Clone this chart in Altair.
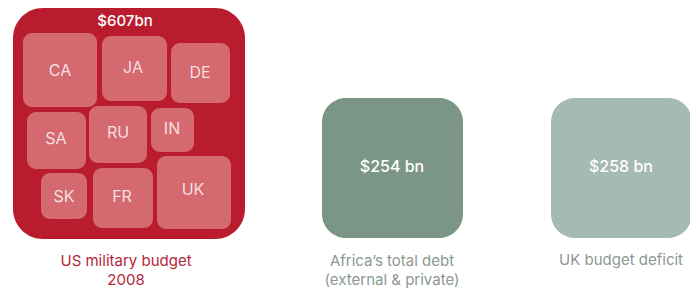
import altair as alt
import pandas as pd

# ---- data ----
totals_labels = ["$607bn", "$254 bn", "$258 bn"]
totals_names = ["US military budget", "Africa's total debt", "UK budget deficit"]
caption_lines = [["US military budget", "2008"],
                 ["Africa\u2019s total debt", "(external & private)"],
                 ["UK budget deficit"]]
countries = ["CA", "JA", "DE", "SA", "RU", "IN", "SK", "FR", "UK"]

# ---- layout (page pixel space) ----
big_boxes = [  # x0, x1, y0, y1
    (13, 245, 8, 239),
    (322, 463, 98, 238),
    (551, 692, 98, 238),
]
big_colors = ["#b91d2d", "#7b9686", "#a5bab0"]
big_radius = [30, 24, 24]
country_boxes = [
    (23, 97, 33, 107), (102, 167, 36, 101), (171, 230, 43, 103),
    (27, 86, 112, 169), (89, 147, 106, 163), (151, 194, 108, 152),
    (41, 87, 173, 219), (93, 153, 168, 228), (157, 231, 156, 229),
]
country_label_pos = [(60, 71), (133, 68), (200, 73), (56, 139), (118, 133),
                     (172, 129), (64, 197), (122, 197), (193, 190)]
total_label_pos = [(125, 21), (392, 167), (621, 167)]
caption_pos_x = [126, 392, 621]
caption_line_y = [[266, 285], [266, 285], [265]]  # baselines
caption_colors = ["#b5273a", "#8d9893", "#8d9893"]

W, H = 682, 281
xs = alt.Scale(domain=[8, 8 + W], nice=False, zero=False)
ys = alt.Scale(domain=[8, 8 + H], nice=False, zero=False, reverse=True)
FONT = "Inter"

layers = []
for i, (x0, x1, y0, y1) in enumerate(big_boxes):
    df = pd.DataFrame([{"x0": x0, "x1": x1, "y0": y0, "y1": y1, "name": totals_names[i]}])
    layers.append(
        alt.Chart(df).mark_rect(color=big_colors[i], cornerRadius=big_radius[i]).encode(
            x=alt.X("x0:Q", scale=xs, axis=None), x2="x1:Q",
            y=alt.Y("y0:Q", scale=ys, axis=None), y2="y1:Q",
        )
    )

cdf = pd.DataFrame([{"c": c, "x0": b[0], "x1": b[1], "y0": b[2], "y1": b[3],
                     "lx": p[0], "ly": p[1]}
                    for c, b, p in zip(countries, country_boxes, country_label_pos)])
layers.append(
    alt.Chart(cdf).mark_rect(color="#d4696f", cornerRadius=9).encode(
        x=alt.X("x0:Q", scale=xs, axis=None), x2="x1:Q",
        y=alt.Y("y0:Q", scale=ys, axis=None), y2="y1:Q",
    )
)
layers.append(
    alt.Chart(cdf).mark_text(color="#f6dfe0", font=FONT, fontSize=16,
                             align="center", baseline="middle").encode(
        x=alt.X("lx:Q", scale=xs, axis=None),
        y=alt.Y("ly:Q", scale=ys, axis=None),
        text="c:N",
    )
)

tdf = pd.DataFrame([{"t": t, "lx": p[0], "ly": p[1], "fs": fs}
                    for t, p, fs in zip(totals_labels, total_label_pos, [15, 16, 16])])
layers.append(
    alt.Chart(tdf).mark_text(color="white", font=FONT, fontWeight=500,
                             align="center", baseline="middle").encode(
        x=alt.X("lx:Q", scale=xs, axis=None),
        y=alt.Y("ly:Q", scale=ys, axis=None),
        text="t:N",
        size=alt.Size("fs:Q", scale=None, legend=None),
    )
)

rows = []
for i, lines in enumerate(caption_lines):
    for line, yy in zip(lines, caption_line_y[i]):
        rows.append({"t": line, "lx": caption_pos_x[i], "ly": yy, "col": caption_colors[i]})
capdf = pd.DataFrame(rows)
layers.append(
    alt.Chart(capdf).mark_text(font=FONT, fontSize=15, align="center",
                               baseline="alphabetic").encode(
        x=alt.X("lx:Q", scale=xs, axis=None),
        y=alt.Y("ly:Q", scale=ys, axis=None),
        text="t:N",
        color=alt.Color("col:N", scale=None),
    )
)

chart = alt.layer(*layers).properties(
    width=W, height=H, padding=0, autosize=alt.AutoSizeParams(type="none"),
    background="white",
).configure_view(stroke=None)

chart.save("out.html", embed_options={"renderer": "svg", "actions": False})
